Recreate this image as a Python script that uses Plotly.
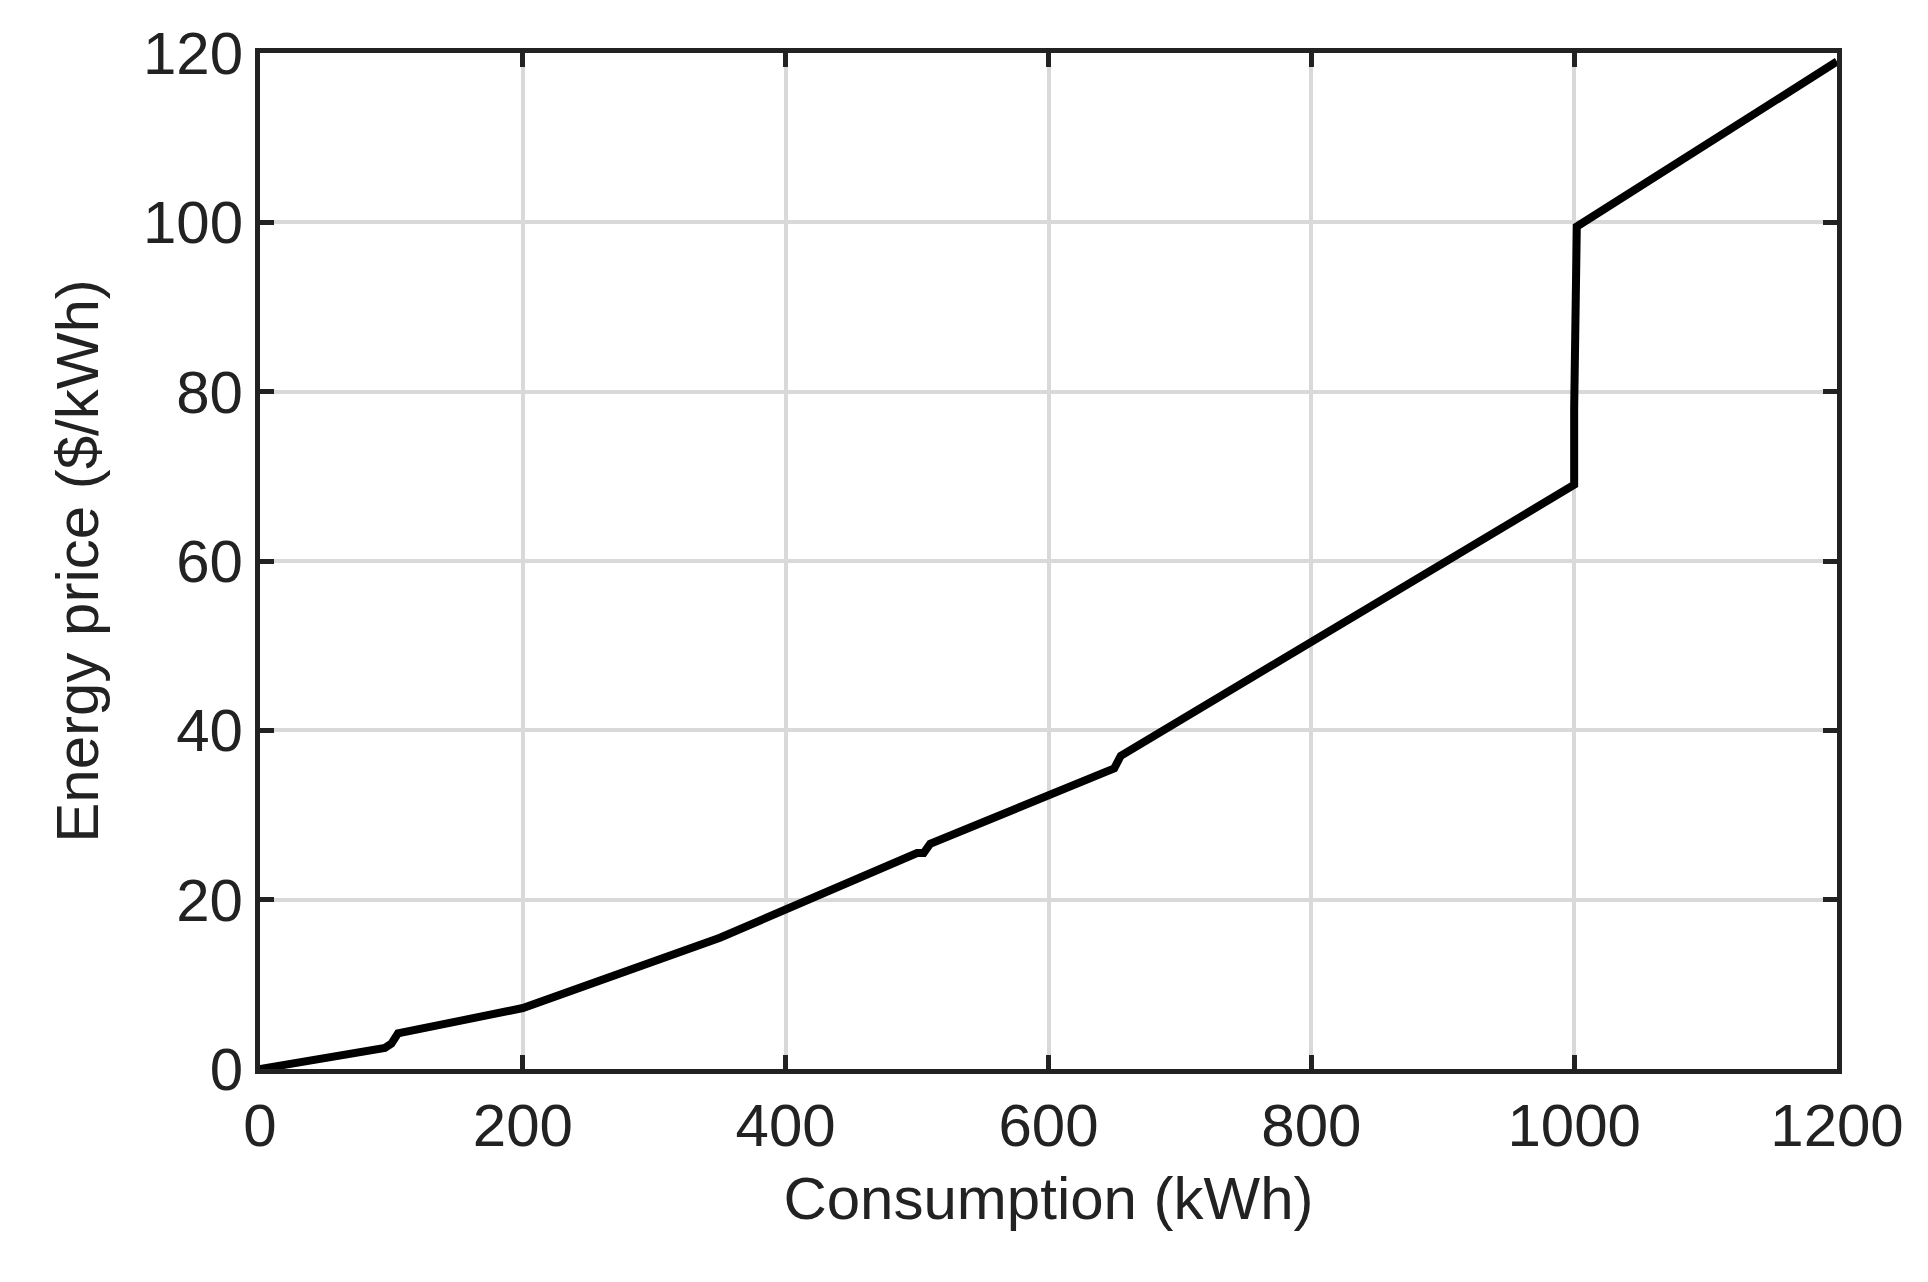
import plotly.graph_objects as go

consumption = [0, 50, 95, 100, 105, 200, 350, 500, 505, 510, 650, 655, 800, 1000, 1000, 1002, 1200]
price = [0, 1.2, 2.5, 3.0, 4.2, 7.2, 15.5, 25.5, 25.5, 26.6, 35.5, 37.0, 50.5, 69.0, 78.0, 99.5, 119.0]

fig = go.Figure(go.Scatter(
    x=consumption, y=price, mode="lines",
    line=dict(color="black", width=8),
))

axis = dict(
    showline=True, linecolor="#222", linewidth=5, mirror="ticks",
    ticks="inside", ticklen=14, tickwidth=5, tickcolor="#222",
    showgrid=True, gridcolor="#d9d9d9", gridwidth=4, zeroline=False,
    tickfont=dict(size=60, color="#222"),
)

fig.update_layout(
    width=1928, height=1282,
    paper_bgcolor="white", plot_bgcolor="white",
    font=dict(family="Liberation Sans, Arial", color="#222"),
    margin=dict(l=252, r=99, t=43, b=221),
    showlegend=False,
    xaxis=dict(axis, range=[0, 1200], dtick=200,
               title=dict(text="Consumption (kWh)", font=dict(size=60), standoff=20)),
    yaxis=dict(axis, range=[0, 120], dtick=20,
               title=dict(text="Energy price ($/kWh)", font=dict(size=60), standoff=26)),
)

fig.write_html("out.html")
